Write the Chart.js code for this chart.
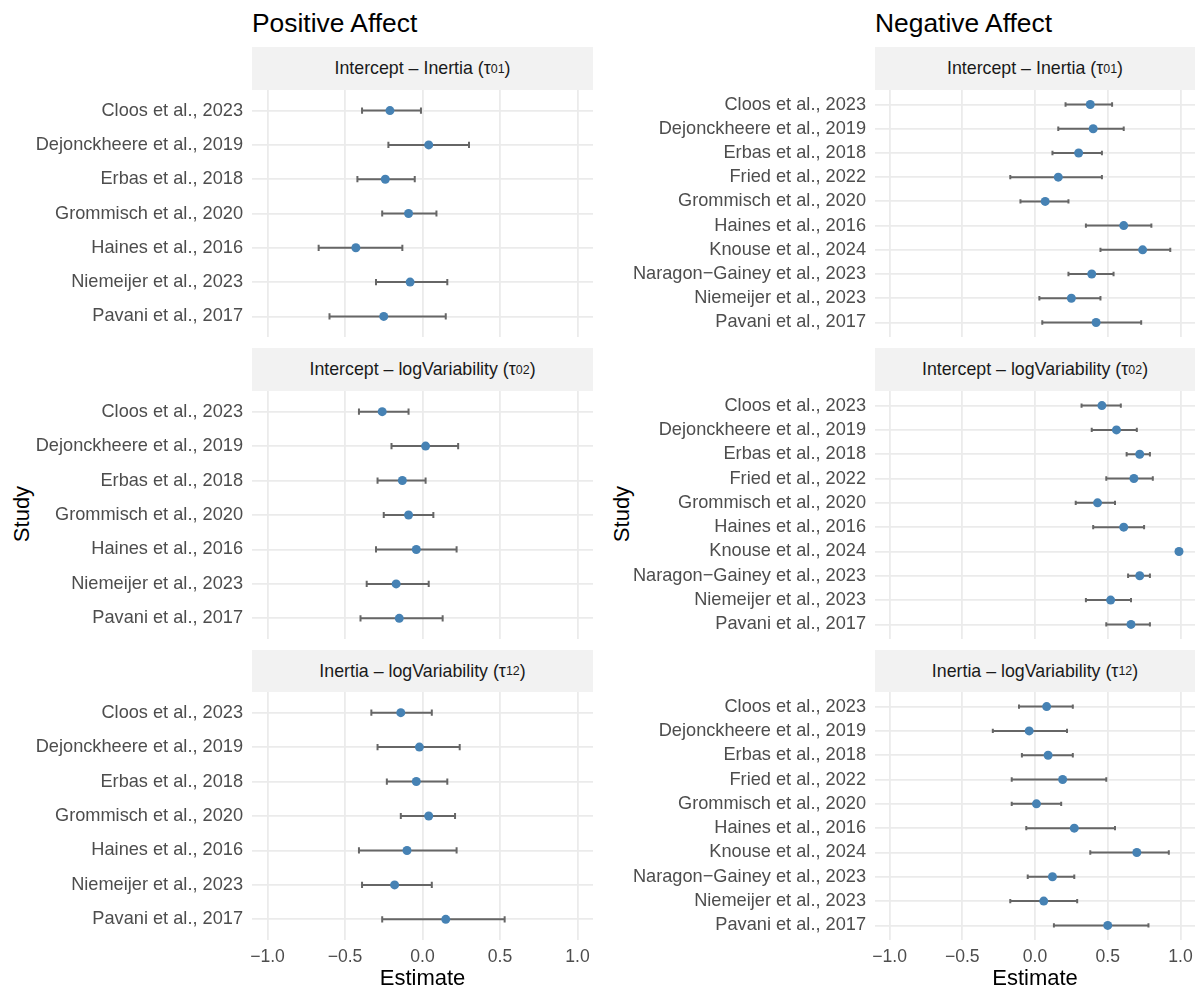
<!DOCTYPE html>
<html>
<head>
<meta charset="utf-8">
<script src="https://cdn.jsdelivr.net/npm/chart.js@4"></script>
<style>
  body { margin: 0; background: #fff; font-family: 'Liberation Sans', Arial, sans-serif; }
  #page { position: relative; width: 1198px; height: 990px; overflow: hidden; }
  canvas { position: absolute; }
  .title { position: absolute; font-size: 26.4px; line-height: 26.4px; color: #000; white-space: nowrap; }
  .strip { position: absolute; background: #f2f2f2; color: #1a1a1a; font-size: 17.8px;
           display: flex; align-items: center; justify-content: center; white-space: nowrap; }
  .strip sub { font-size: 70%; vertical-align: -0.3em; line-height: 0; }
  .ylab { position: absolute; font-size: 22px; line-height: 22px; color: #000;
          transform: translate(-50%, -50%) rotate(-90deg); white-space: nowrap; }
</style>
</head>
<body>
<div id="page">
  <div class="title" style="left:252px; top:10px;">Positive Affect</div>
  <div class="title" style="left:875px; top:10px;">Negative Affect</div>
  <div class="ylab" style="left:22px; top:514px;">Study</div>
  <div class="ylab" style="left:622px; top:514px;">Study</div>
</div>
<script>
// studies
const studiesPA = ['Cloos et al., 2023', 'Dejonckheere et al., 2019', 'Erbas et al., 2018',
  'Grommisch et al., 2020', 'Haines et al., 2016', 'Niemeijer et al., 2023', 'Pavani et al., 2017'];
const studiesNA = ['Cloos et al., 2023', 'Dejonckheere et al., 2019', 'Erbas et al., 2018',
  'Fried et al., 2022', 'Grommisch et al., 2020', 'Haines et al., 2016', 'Knouse et al., 2024',
  'Naragon\u2212Gainey et al., 2023', 'Niemeijer et al., 2023', 'Pavani et al., 2017'];

const xTicks = [-1, -0.5, 0, 0.5, 1];

// Positive affect
const pa01Est = [-0.21, 0.04, -0.24, -0.09, -0.43, -0.08, -0.25];
const pa01Lo  = [-0.39, -0.22, -0.42, -0.26, -0.67, -0.30, -0.60];
const pa01Hi  = [-0.01, 0.30, -0.05, 0.09, -0.13, 0.16, 0.15];

const pa02Est = [-0.26, 0.02, -0.13, -0.09, -0.04, -0.17, -0.15];
const pa02Lo  = [-0.41, -0.20, -0.29, -0.25, -0.30, -0.36, -0.40];
const pa02Hi  = [-0.09, 0.23, 0.02, 0.07, 0.22, 0.04, 0.13];

const pa12Est = [-0.14, -0.02, -0.04, 0.04, -0.10, -0.18, 0.15];
const pa12Lo  = [-0.33, -0.29, -0.23, -0.14, -0.41, -0.39, -0.26];
const pa12Hi  = [0.06, 0.24, 0.16, 0.21, 0.22, 0.06, 0.53];

// Negative affect
const na01Est = [0.38, 0.40, 0.30, 0.16, 0.07, 0.61, 0.74, 0.39, 0.25, 0.42];
const na01Lo  = [0.21, 0.16, 0.12, -0.17, -0.10, 0.35, 0.45, 0.23, 0.03, 0.05];
const na01Hi  = [0.53, 0.61, 0.46, 0.46, 0.23, 0.80, 0.93, 0.54, 0.45, 0.73];

const na02Est = [0.46, 0.56, 0.72, 0.68, 0.43, 0.61, 0.99, 0.72, 0.52, 0.66];
const na02Lo  = [0.32, 0.39, 0.63, 0.49, 0.28, 0.40, 0.97, 0.64, 0.35, 0.49];
const na02Hi  = [0.59, 0.70, 0.79, 0.81, 0.55, 0.75, 1.00, 0.79, 0.66, 0.79];

const na12Est = [0.08, -0.04, 0.09, 0.19, 0.01, 0.27, 0.70, 0.12, 0.06, 0.50];
const na12Lo  = [-0.11, -0.29, -0.09, -0.16, -0.16, -0.06, 0.38, -0.05, -0.17, 0.13];
const na12Hi  = [0.26, 0.22, 0.26, 0.49, 0.18, 0.55, 0.92, 0.27, 0.29, 0.78];

const facetLabels = [
  'Intercept \u2013 Inertia (\u03c4<sub>01</sub>)',
  'Intercept \u2013 logVariability (\u03c4<sub>02</sub>)',
  'Inertia \u2013 logVariability (\u03c4<sub>12</sub>)'
];

Chart.defaults.font.family = "'Liberation Sans', Arial, sans-serif";

// draws horizontal error bars with caps, under the points
const errorBarPlugin = {
  id: 'errorBars',
  beforeDatasetsDraw(chart, args, opts) {
    const ctx = chart.ctx;
    const xs = chart.scales.x, ys = chart.scales.y;
    ctx.save();
    ctx.strokeStyle = '#666666';
    ctx.lineWidth = 2;
    opts.lo.forEach((lo, i) => {
      const x1 = xs.getPixelForValue(lo);
      const x2 = xs.getPixelForValue(opts.hi[i]);
      const y = ys.getPixelForValue(i);
      const cap = Math.abs(ys.getPixelForValue(i + 0.09) - y);
      ctx.beginPath();
      ctx.moveTo(x1, y); ctx.lineTo(x2, y);
      ctx.moveTo(x1, y - cap); ctx.lineTo(x1, y + cap);
      ctx.moveTo(x2, y - cap); ctx.lineTo(x2, y + cap);
      ctx.stroke();
    });
    ctx.restore();
  }
};

const columns = [
  { left: 0, width: 600, axisW: 252, padR: 7, studies: studiesPA,
    panels: [[pa01Est, pa01Lo, pa01Hi], [pa02Est, pa02Lo, pa02Hi], [pa12Est, pa12Lo, pa12Hi]] },
  { left: 600, width: 598, axisW: 275, padR: 3, studies: studiesNA,
    panels: [[na01Est, na01Lo, na01Hi], [na02Est, na02Lo, na02Hi], [na12Est, na12Lo, na12Hi]] }
];
const rows = [
  { stripTop: 47, top: 90, h: 247 },
  { stripTop: 348, top: 391, h: 248 },
  { stripTop: 650, top: 692, h: 248 }
];

const page = document.getElementById('page');

columns.forEach(col => {
  rows.forEach((row, r) => {
    const [est, lo, hi] = col.panels[r];
    const bottom = r === rows.length - 1;
    const xAxisH = bottom ? 50 : 0;

    const strip = document.createElement('div');
    strip.className = 'strip';
    strip.style.left = (col.left + col.axisW) + 'px';
    strip.style.top = row.stripTop + 'px';
    strip.style.width = (col.width - col.axisW - col.padR) + 'px';
    strip.style.height = (row.top - row.stripTop) + 'px';
    strip.innerHTML = facetLabels[r];
    page.appendChild(strip);

    const canvas = document.createElement('canvas');
    canvas.width = col.width;
    canvas.height = row.h + xAxisH;
    canvas.style.left = col.left + 'px';
    canvas.style.top = row.top + 'px';
    page.appendChild(canvas);

    new Chart(canvas.getContext('2d'), {
      type: 'scatter',
      data: {
        datasets: [{
          data: est.map((v, i) => ({ x: v, y: i })),
          backgroundColor: '#4682b4',
          borderWidth: 0,
          pointRadius: 4.5,
          pointHoverRadius: 4.5
        }]
      },
      plugins: [errorBarPlugin],
      options: {
        responsive: false,
        animation: false,
        devicePixelRatio: 1,
        layout: { autoPadding: false, padding: { left: 0, right: col.padR, top: 0, bottom: 0 } },
        plugins: {
          legend: { display: false },
          tooltip: { enabled: false },
          errorBars: { lo: lo, hi: hi }
        },
        scales: {
          x: {
            type: 'linear',
            min: -1.1,
            max: 1.1,
            afterBuildTicks: s => { s.ticks = xTicks.map(v => ({ value: v })); },
            afterFit: s => { s.height = xAxisH; s.paddingLeft = 0; s.paddingRight = 0; },
            grid: { color: '#ebebeb', lineWidth: 1.8, drawTicks: false },
            border: { display: false },
            ticks: {
              display: bottom,
              color: '#4d4d4d',
              font: { size: 17.6 },
              padding: 7,
              maxRotation: 0,
              callback: v => (v < 0 ? '\u2212' : '') + Math.abs(v).toFixed(1)
            },
            title: {
              display: bottom,
              text: 'Estimate',
              color: '#000',
              font: { size: 22, lineHeight: 1 },
              padding: { top: 0, bottom: 0 }
            }
          },
          y: {
            type: 'linear',
            reverse: true,
            min: -0.6,
            max: col.studies.length - 0.4,
            afterBuildTicks: s => { s.ticks = col.studies.map((_, i) => ({ value: i })); },
            afterFit: s => { s.width = col.axisW; s.paddingTop = 0; s.paddingBottom = 0; },
            grid: { color: '#ebebeb', lineWidth: 1.8, drawTicks: false },
            border: { display: false },
            ticks: {
              color: '#4d4d4d',
              font: { size: 18.2 },
              padding: 9,
              autoSkip: false,
              callback: v => col.studies[v]
            }
          }
        }
      }
    });
  });
});
</script>
</body>
</html>
